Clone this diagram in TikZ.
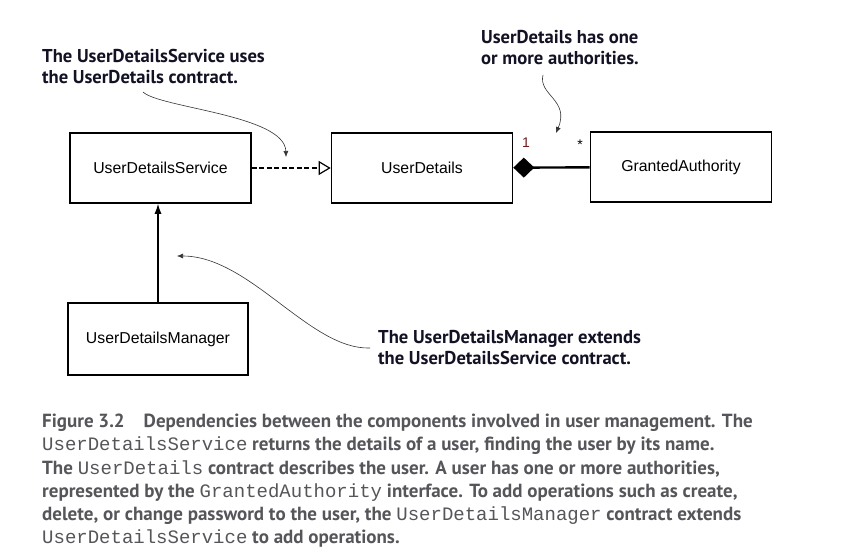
\documentclass[tikz,border=0pt]{standalone}
\usepackage{fontspec}
\setmainfont{Liberation Sans}
\setmonofont{Liberation Mono}
\newfontfamily\notefont{PT Sans}
\usetikzlibrary{arrows.meta}
\definecolor{capgray}{RGB}{85,85,90}
\definecolor{notenavy}{RGB}{18,18,36}
\definecolor{onered}{RGB}{110,30,30}
\newcommand{\codeword}[1]{{\ttfamily\mdseries #1}}
\tikzset{
    classbox/.style={draw, line width=1.6pt, minimum width=181pt, minimum height=70pt,
        inner sep=0pt, font=\fontsize{15.8}{18}\selectfont},
    note/.style={align=left, inner sep=0pt, text=notenavy,
        font=\notefont\bfseries\fontsize{18.6}{21.5}\selectfont},
    callout/.style={-{Latex[length=6pt,width=5pt]}, line width=0.6pt, draw=black!80},
    caption/.style={align=left, inner sep=0pt, text=capgray,
        font=\notefont\bfseries\fontsize{19}{23.2}\selectfont},
}

\begin{document}
\begin{tikzpicture}[x=1pt,y=-1pt]
    \useasboundingbox (0,0) rectangle (850,554);
    % classes
    \node[classbox] (svc) at (160.5,168) {UserDetailsService};
    \node[classbox] (det) at (422,168) {UserDetails};
    \node[classbox] (auth) at (681,167) {GrantedAuthority};
    \node[classbox, minimum width=180pt, minimum height=72pt] (mgr) at (158,339) {UserDetailsManager};
    % relations
    \draw[line width=2.6pt, dash pattern=on 5pt off 2.5pt,
        -{Triangle[open, length=12pt, width=14pt, line width=1.2pt]}] (svc) -- (det);
    \draw[line width=2.4pt, {Diamond[length=21pt, width=20pt]}-] (det) -- (auth);
    \node[font=\fontsize{14}{16}\selectfont, text=onered] (one) at (526,143) {1};
    \node[font=\fontsize{14}{16}\selectfont] (many) at (580,145) {*};
    \draw[line width=1.2pt, -{Latex[length=10pt,width=7pt]}] (mgr.north) -- (mgr.north |- svc.south);
    % notes
    \node[note, anchor=north west] (usesNote) at (42,49) {The UserDetailsService uses\\the UserDetails contract.};
    \node[note, anchor=north west] (hasNote) at (481,30) {UserDetails has one\\or more authorities.};
    \node[note, anchor=north west] (extNote) at (378,330) {The UserDetailsManager extends\\the UserDetailsService contract.};
    \coordinate (usesTail) at (143,92);
    \coordinate (usesTip) at (286,157);
    \coordinate (hasTail) at (543,75);
    \coordinate (hasTip) at (556,133);
    \coordinate (extTail) at (370,348);
    \coordinate (extTip) at (177,256);
    \draw[callout] (usesTail) .. controls (160,108) and (285,115) .. (usesTip);
    \draw[callout] (hasTail) .. controls (538,95) and (570,100) .. (hasTip);
    \draw[callout] (extTail) .. controls (310,350) and (250,256) .. (extTip);
    % caption
    \node[caption, anchor=north west] (cap) at (42,414) {Figure 3.2\hspace{1em}Dependencies between the components involved in user management. The\\
        \codeword{UserDetailsService} returns the details of a user, finding the user by its name.\\
        The \codeword{UserDetails} contract describes the user. A user has one or more authorities,\\
        represented by the \codeword{GrantedAuthority} interface. To add operations such as create,\\
        delete, or change password to the user, the \codeword{UserDetailsManager} contract extends\\
        \codeword{UserDetailsService} to add operations.};
\end{tikzpicture}
\end{document}
